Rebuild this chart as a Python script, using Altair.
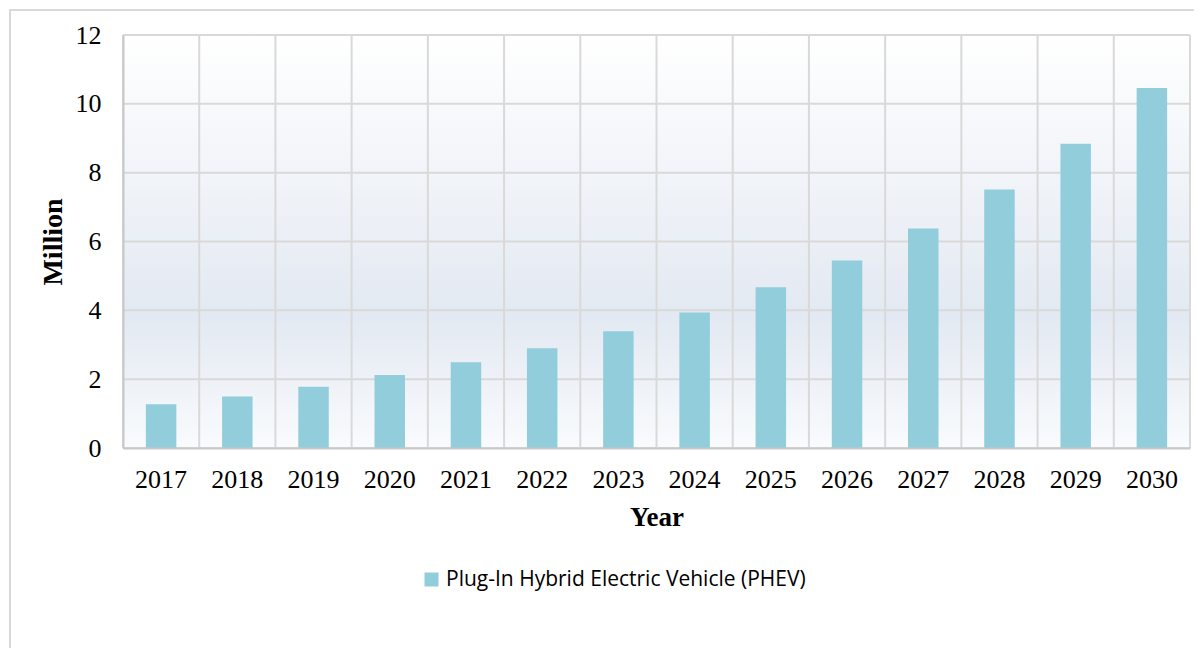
import altair as alt
import pandas as pd

years = ["2017", "2018", "2019", "2020", "2021", "2022", "2023",
         "2024", "2025", "2026", "2027", "2028", "2029", "2030"]
values = [1.27, 1.50, 1.78, 2.12, 2.49, 2.90, 3.39,
          3.94, 4.67, 5.45, 6.38, 7.51, 8.84, 10.46]
series = "Plug-In Hybrid Electric Vehicle (PHEV)"
y_ticks = [0, 2, 4, 6, 8, 10, 12]

df = pd.DataFrame({"Year": years, "Million": values, "Series": [series] * len(years)})
grid_df = pd.DataFrame({"v": y_ticks})
last_df = pd.DataFrame({"Year": [years[-1]]})

W, H = 1067, 413
serif = "Liberation Serif"
GRID = "#D9D9D9"

bg = alt.LinearGradient(
    gradient="linear", x1=0, x2=0, y1=0, y2=1,
    stops=[alt.GradientStop(offset=0, color="#FFFFFF"),
           alt.GradientStop(offset=0.68, color="#E3E9F2"),
           alt.GradientStop(offset=1, color="#F9FBFD")],
)

xscale = alt.Scale(domain=years, paddingInner=0, paddingOuter=0)
yscale = alt.Scale(domain=[0, 12], nice=False)

xaxis = alt.Axis(labelAngle=0, grid=False, ticks=False, zindex=1, bandPosition=0.5,
                 labelFont=serif, labelFontSize=26, labelColor="#000000",
                 labelPadding=18, titleFont=serif, titleFontSize=27,
                 titleFontWeight="bold", titleColor="#000000", titlePadding=12,
                 domainColor="#C8C8C8", domainWidth=2)
yaxis = alt.Axis(values=y_ticks, grid=False, ticks=False, zindex=1,
                 labelFont=serif, labelFontSize=26, labelColor="#000000",
                 labelPadding=22, titleFont=serif, titleFontSize=28,
                 titleFontWeight="bold", titleColor="#000000", titlePadding=8,
                 domainColor="#C8C8C8", domainWidth=2)

background = alt.Chart(alt.Data(values=[{}])).mark_rect(color=bg).encode(
    x=alt.value(0), x2=alt.value(W), y=alt.value(0), y2=alt.value(H)
)

hgrid = alt.Chart(grid_df).mark_rule(color=GRID, strokeWidth=2).encode(
    y=alt.Y("v:Q", scale=yscale, title="Million", axis=yaxis)
)
vgrid = alt.Chart(df).mark_rule(color=GRID, strokeWidth=2).encode(
    x=alt.X("Year:N", scale=xscale, bandPosition=0, title="Year", axis=xaxis)
)
vgrid_end = alt.Chart(last_df).mark_rule(color=GRID, strokeWidth=2).encode(
    x=alt.X("Year:N", scale=xscale, bandPosition=1, title="Year", axis=xaxis)
)

bars = alt.Chart(df).mark_bar(width=alt.RelativeBandSize(0.4)).encode(
    x=alt.X("Year:N", sort=years, title="Year", scale=xscale, axis=xaxis),
    y=alt.Y("Million:Q", title="Million", scale=yscale, axis=yaxis),
    color=alt.Color("Series:N", scale=alt.Scale(range=["#92CDDC"]),
                    legend=alt.Legend(title=None, orient="none", legendX=298, legendY=534,
                                      symbolType="square", symbolSize=196,
                                      symbolStrokeWidth=0, labelFont="Open Sans",
                                      labelFontSize=21, labelColor="#000000",
                                      labelOffset=4, padding=0, labelLimit=0)),
)

border = alt.Chart(alt.Data(values=[{}])).mark_rect(
    fill="transparent", stroke=GRID, strokeWidth=2
).encode(
    x=alt.value(-113), x2=alt.value(1300), y=alt.value(-25), y2=alt.value(900)
)

chart = alt.layer(background, hgrid, vgrid, vgrid_end, bars, border).properties(
    width=W, height=H,
    autosize=alt.AutoSizeParams(type="none"),
    padding={"left": 115, "top": 27, "right": 4, "bottom": 200},
).configure_view(stroke=None)

chart.save("out.html", embed_options={"renderer": "svg", "actions": False})
